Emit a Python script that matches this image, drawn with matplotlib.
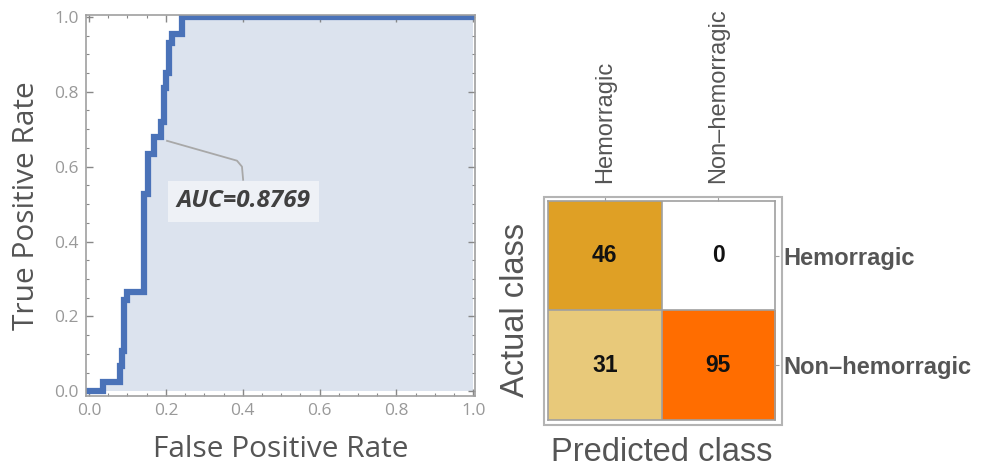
import matplotlib
matplotlib.use("Agg")
import matplotlib.pyplot as plt
import numpy as np
from matplotlib.colors import LinearSegmentedColormap
from matplotlib.patches import Rectangle
from matplotlib.ticker import MultipleLocator

# ROC curve vertices (steps: horizontal then vertical)
fpr = [0.0, 0.036, 0.080, 0.085, 0.092, 0.100, 0.142, 0.154, 0.170, 0.188, 0.195, 0.200, 0.208, 0.216, 0.242, 1.0]
tpr = [0.0, 0.026, 0.068, 0.107, 0.245, 0.265, 0.527, 0.633, 0.680, 0.720, 0.810, 0.850, 0.930, 0.955, 1.000, 1.0]
auc_text = "AUC=0.8769"

# confusion matrix: rows = actual, cols = predicted
classes = ["Hemorragic", "Non\u2013hemorragic"]
counts = [[46, 0],
          [31, 95]]

grey_txt = "#555555"
frame = "#a0a0a0"

fig = plt.figure(figsize=(9.88, 4.69), dpi=100)

# ---- ROC panel ----
ax = fig.add_axes([0.087, 0.156, 0.394, 0.812])
ax.fill_between(fpr, tpr, 0, step="post", color="#dce3ee", lw=0)
ax.plot(fpr, tpr, drawstyle="steps-post", color="#4a72b8", lw=4.5, solid_joinstyle="miter")
ax.set_xlim(-0.008, 1.005)
ax.set_ylim(-0.012, 1.005)
for s in ax.spines.values():
    s.set_color(frame)
    s.set_linewidth(1.2)
ax.xaxis.set_major_locator(MultipleLocator(0.2))
ax.yaxis.set_major_locator(MultipleLocator(0.2))
ax.xaxis.set_minor_locator(MultipleLocator(0.05))
ax.yaxis.set_minor_locator(MultipleLocator(0.05))
ax.tick_params(which="both", direction="in", top=True, right=True, color="#888888")
ax.tick_params(which="major", length=5, width=1, labelsize=12.5, labelcolor="#999999", pad=5)
ax.tick_params(which="minor", length=2.5, width=0.8)
ax.xaxis.set_major_formatter(plt.FuncFormatter(lambda v, p: f"{v:.1f}"))
ax.yaxis.set_major_formatter(plt.FuncFormatter(lambda v, p: f"{v:.1f}"))
for lab in ax.get_xticklabels() + ax.get_yticklabels():
    lab.set_family("Open Sans")
ax.set_xlabel("False Positive Rate", fontsize=21.5, family="Open Sans", color=grey_txt, labelpad=12)
ax.set_ylabel("True Positive Rate", fontsize=21.5, family="Open Sans", color=grey_txt, labelpad=10)

# AUC callout
ax.plot([0.203, 0.385, 0.398, 0.401], [0.669, 0.616, 0.600, 0.565], color="#a8a8a8", lw=1.3)
ax.text(0.401, 0.508, auc_text, ha="center", va="center", fontsize=17.5,
        fontweight="bold", style="italic", family="Open Sans", color="#404040",
        bbox=dict(boxstyle="square,pad=0.35", fc="#eef1f6", ec="none"))

# ---- confusion matrix panel ----
cm = fig.add_axes([0.5547, 0.1045, 0.2298, 0.467])
cmap = LinearSegmentedColormap.from_list(
    "cm", [(0.0, "#ffffff"), (31 / 95, "#e8c97a"), (46 / 95, "#dfa024"), (1.0, "#ff6d00")])
data = np.array(counts)
cm.imshow(data, cmap=cmap, vmin=0, vmax=95, aspect="auto")
for (i, j), v in np.ndenumerate(data):
    cm.text(j, i, str(v), ha="center", va="center", fontsize=16.5, fontweight="bold",
            family="Liberation Sans", color="#111111")
cm.axhline(0.5, color=frame, lw=1.2)
cm.axvline(0.5, color=frame, lw=1.2)
for s in cm.spines.values():
    s.set_color(frame)
    s.set_linewidth(1.2)
cm.set_xticks(range(len(classes)))
cm.set_yticks(range(len(classes)))
cm.set_xticklabels(classes, rotation=90, fontsize=17, family="Liberation Sans", color=grey_txt)
cm.set_yticklabels(classes, fontsize=17, fontweight="bold", family="Liberation Sans", color=grey_txt)
cm.tick_params(top=True, bottom=False, labeltop=True, labelbottom=False,
               right=True, left=False, labelright=True, labelleft=False,
               length=3, color=frame, pad=10)
cm.tick_params(axis="y", pad=3)
cm.set_xlabel("Predicted class", fontsize=23.5, family="Liberation Sans", color=grey_txt, labelpad=12)
cm.xaxis.set_label_position("bottom")
cm.set_ylabel("Actual class", fontsize=23.5, family="Liberation Sans", color=grey_txt, labelpad=12)
cm.yaxis.set_label_position("left")

# outer frame around the matrix
fig.patches.append(Rectangle((544 / 988, (469 - 425) / 469), 238 / 988, 228 / 469,
                             transform=fig.transFigure, fill=False, ec="#b4b4b4", lw=1.5))

fig.savefig("out.png", dpi=100, facecolor="white")
